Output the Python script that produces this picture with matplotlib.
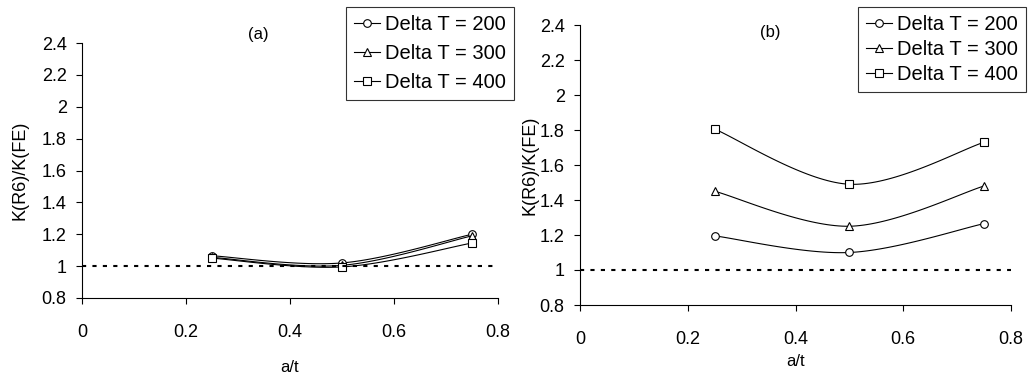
import numpy as np
import matplotlib.pyplot as plt

plt.rcParams['font.family'] = ['Liberation Sans', 'DejaVu Sans']

a_t = [0.25, 0.5, 0.75]
labels = ['Delta T = 200', 'Delta T = 300', 'Delta T = 400']
markers = ['o', '^', 's']

ratio_a = {
    'Delta T = 200': [1.065, 1.02, 1.20],
    'Delta T = 300': [1.055, 1.005, 1.19],
    'Delta T = 400': [1.05, 0.995, 1.145],
}
ratio_b = {
    'Delta T = 200': [1.195, 1.10, 1.265],
    'Delta T = 300': [1.45, 1.25, 1.48],
    'Delta T = 400': [1.805, 1.49, 1.73],
}


def smooth(x, y, n=40):
    # Catmull-Rom curve through the points, like Excel's smoothed line
    x = np.asarray(x, float)
    y = np.asarray(y, float)
    px = np.concatenate(([x[0]], x, [x[-1]]))
    py = np.concatenate(([y[0]], y, [y[-1]]))
    xs, ys = [], []
    for i in range(1, len(px) - 2):
        t = np.linspace(0, 1, n)
        for p, out in ((px, xs), (py, ys)):
            p0, p1, p2, p3 = p[i - 1], p[i], p[i + 1], p[i + 2]
            out.append(0.5 * (2 * p1 + (-p0 + p2) * t
                              + (2 * p0 - 5 * p1 + 4 * p2 - p3) * t ** 2
                              + (-p0 + 3 * p1 - 3 * p2 + p3) * t ** 3))
    return np.concatenate(xs), np.concatenate(ys)


W, H = 1029, 378
fig = plt.figure(figsize=(W / 100, H / 100), dpi=100)


def make_panel(box, data, title, title_xy, xlabel_y, legend_box, spacing):
    l, r, t, b = box
    ax = fig.add_axes([l / W, 1 - b / H, (r - l) / W, (b - t) / H])
    for lab, m in zip(labels, markers):
        sx, sy = smooth(a_t, data[lab])
        ax.plot(sx, sy, color='black', lw=0.8)
        ax.plot(a_t, data[lab], linestyle='none', marker=m, ms=5.5,
                mfc='white', mec='black', mew=0.8)
        ax.plot([], [], color='black', lw=0.8, marker=m, ms=5.5,
                mfc='white', mec='black', mew=0.8, label=lab)
    ax.axhline(1, color='black', ls=(0, (2, 3)), lw=1.5)
    ax.set_xlim(0, 0.8)
    ax.set_ylim(0.8, 2.4)
    ax.set_xticks(np.arange(0, 0.81, 0.2))
    ax.set_yticks(np.arange(0.8, 2.41, 0.2))
    ax.set_xticklabels(['0', '0.2', '0.4', '0.6', '0.8'])
    ax.set_yticklabels(['0.8', '1', '1.2', '1.4', '1.6', '1.8', '2', '2.2', '2.4'])
    ax.tick_params(axis='x', direction='out', length=4, pad=15, labelsize=13)
    ax.tick_params(axis='y', direction='out', length=4, pad=7, labelsize=13)
    for s in ('top', 'right'):
        ax.spines[s].set_visible(False)
    ax.set_ylabel('K(R6)/K(FE)', fontsize=13)
    fig.text(title_xy[0] / W, 1 - title_xy[1] / H, title, fontsize=12,
             ha='center', va='center')
    fig.text((l + r) / 2 / W, 1 - xlabel_y / H, 'a/t', fontsize=12,
             ha='center', va='center')
    leg = ax.legend(loc='upper right',
                    bbox_to_anchor=(legend_box[0] / W, 1 - legend_box[1] / H),
                    bbox_transform=fig.transFigure, fontsize=14.5,
                    frameon=True, fancybox=False, edgecolor='black',
                    handlelength=1.3, handletextpad=0.25, borderpad=0.4,
                    labelspacing=spacing, borderaxespad=0)
    leg.get_frame().set_linewidth(0.8)
    return ax


ax1 = make_panel((82, 498, 43, 298), ratio_a, '(a)', (258, 34), 367,
                 (514, 7), 0.5)
ax1.yaxis.set_label_coords(-53 / 416, 0.5)
ax2 = make_panel((580, 1011, 25, 305), ratio_b, '(b)', (770, 32), 362,
                 (1026, 7), 0.3)
ax2.yaxis.set_label_coords(-41 / 431, 0.5)

fig.savefig('out.png', dpi=100)
